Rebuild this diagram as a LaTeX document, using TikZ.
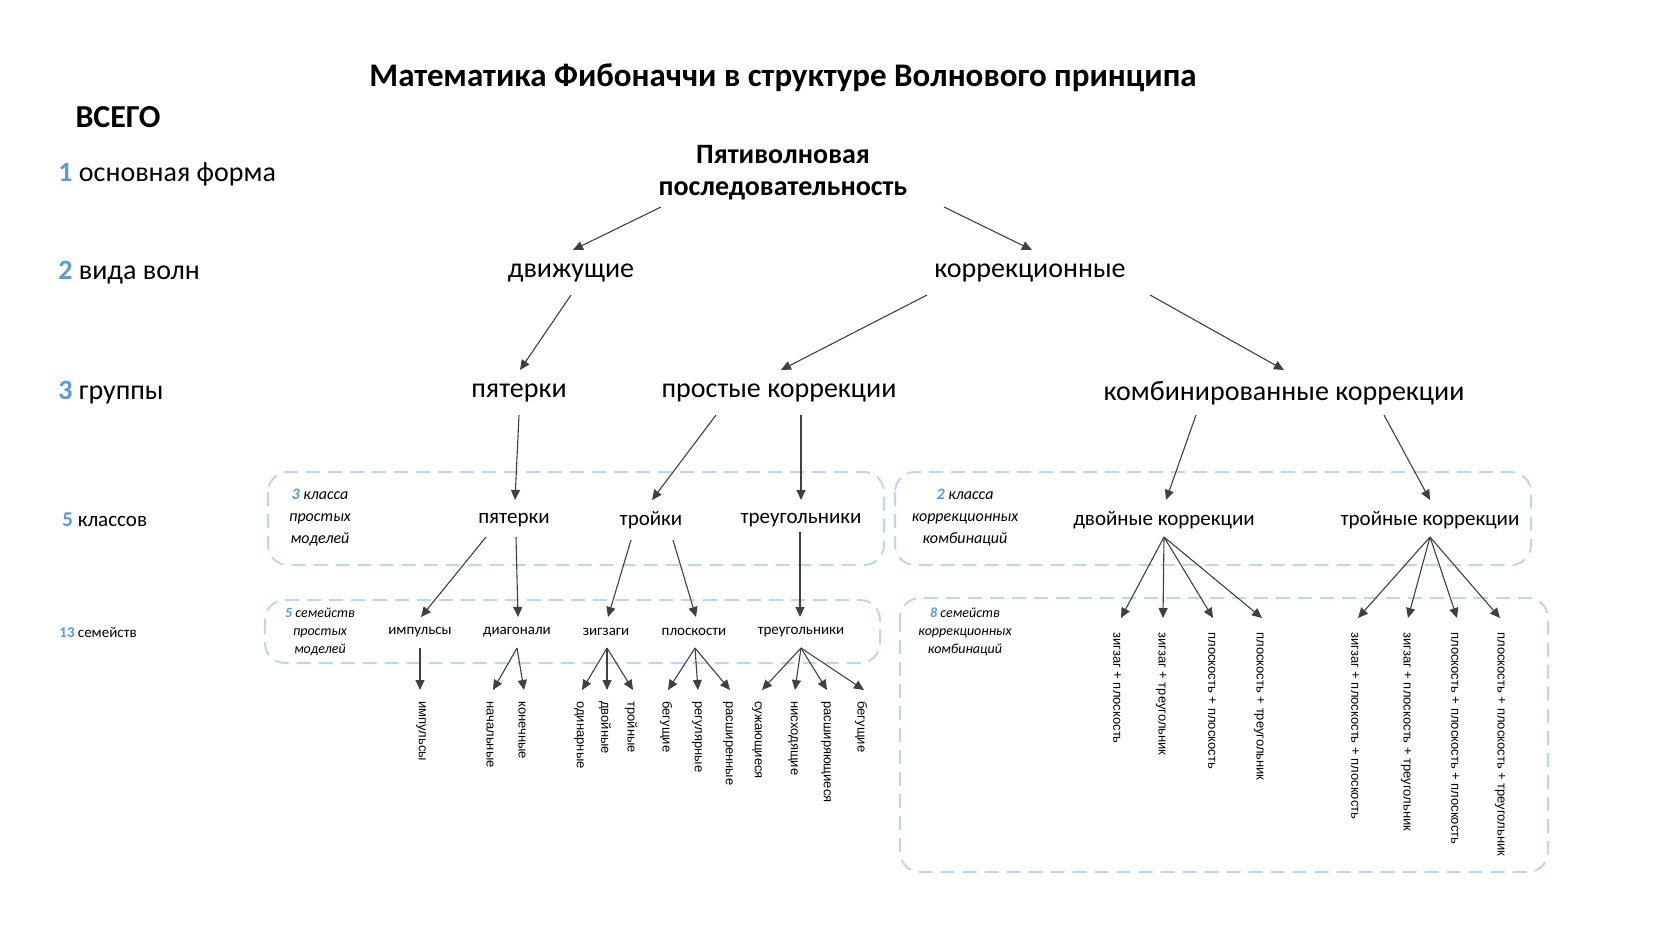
\documentclass[tikz,border=0pt]{standalone}
\usepackage{fontspec}
\setmainfont{Carlito}
\newfontfamily\arialf{Liberation Sans}
\usetikzlibrary{arrows.meta,calc}
\definecolor{nb}{RGB}{91,155,213}
\definecolor{bx}{RGB}{189,215,238}
\definecolor{ln}{RGB}{64,64,64}
\begin{document}
\begin{tikzpicture}[x=0.5pt,y=-0.5pt,
  arr/.style={draw=ln,line width=0.55pt,-{Triangle[length=5pt,width=4.5pt]}},
  box/.style={draw=bx,line width=1pt,dash pattern=on 7pt off 4pt,rounded corners=10pt},
  big/.style={font=\fontsize{14}{16}\selectfont,inner sep=1pt},
  mid/.style={font=\fontsize{10.5}{12}\selectfont,inner sep=1pt},
  sml/.style={font=\fontsize{7.5}{9}\selectfont,inner sep=1pt},
  bl/.style={font=\fontsize{8}{11}\selectfont\itshape,align=center,inner sep=0pt},
  leaf/.style={font=\arialf\fontsize{6.5}{8}\selectfont,rotate=-90,anchor=west,inner sep=0pt}]
\useasboundingbox (0,0) rectangle (1667,938);
\node[font=\bfseries\fontsize{16.5}{20}\selectfont] (title) at (783,78) {Математика Фибоначчи в структуре Волнового принципа};
\node[font=\bfseries\fontsize{16}{20}\selectfont] (all) at (118,117) {ВСЕГО};
\node[big,anchor=west] (l1) at (56,174) {\textcolor{nb}{\bfseries 1} основная форма};
\node[big,anchor=west] (l2) at (56,273) {\textcolor{nb}{\bfseries 2} вида волн};
\node[big,anchor=west] (l3) at (56,393) {\textcolor{nb}{\bfseries 3} группы};
\node[mid,anchor=west] (l5) at (60,520) {\textcolor{nb}{\bfseries 5} классов};
\node[sml,anchor=west] (l13) at (57,632) {\textcolor{nb}{\bfseries 13} семейств};
% boxes
\draw[box] (268,472) rectangle (884,565);
\draw[box] (895,472) rectangle (1531,565);
\draw[box] (265,600) rectangle (880,663);
\draw[box] (900,598) rectangle (1548,872);
\node[bl] (b1) at (320,518) {\textcolor{nb}{\bfseries 3} класса\\простых\\моделей};
\node[bl] (b2) at (965,518) {\textcolor{nb}{\bfseries 2} класса\\коррекционных\\комбинаций};
\node[bl,font=\fontsize{7}{9}\selectfont\itshape] (b3) at (320,632) {\textcolor{nb}{\bfseries 5} семейств\\простых\\моделей};
\node[bl,font=\fontsize{7}{9}\selectfont\itshape] (b4) at (965,632) {\textcolor{nb}{\bfseries 8} семейств\\коррекционных\\комбинаций};
% tree
\node[big,font=\bfseries\fontsize{14}{16}\selectfont,align=center] (root) at (783,173) {Пятиволновая\\последовательность};
\node[big] (dv) at (571,273) {движущие};
\node[big] (ko) at (1030,273) {коррекционные};
\node[big] (p5) at (519,393) {пятерки};
\node[big] (pk) at (779,393) {простые коррекции};
\node[big] (kk) at (1284,393) {комбинированные коррекции};
\node[mid] (c1) at (514,520) {пятерки};
\node[mid] (c2) at (651,520) {тройки};
\node[mid] (c3) at (801,520) {треугольники};
\node[mid] (c4) at (1164,520) {двойные коррекции};
\node[mid] (c5) at (1430,520) {тройные коррекции};
\node[sml] (f1) at (420,632) {импульсы};
\node[sml] (f2) at (517,632) {диагонали};
\node[sml] (f3) at (606,632) {зигзаги};
\node[sml] (f4) at (694,632) {плоскости};
\node[sml] (f5) at (801,632) {треугольники};
% leaves
\foreach \n/\x/\t in {a1/421/импульсы,a2/490/начальные,a3/522/конечные,a4/579/одинарные,a5/605/двойные,a6/631/тройные,a7/666/бегущие,a8/697/регулярные,a9/728/расширенные,a10/757/сужающиеся,a11/793/нисходящие,a12/826/расширяющиеся,a13/861/бегущие}
  \node[leaf] (\n) at (\x,701) {\t};
\foreach \n/\x/\t in {r1/1117/зигзаг + плоскость,r2/1161/зигзаг + треугольник,r3/1212/плоскость + плоскость,r4/1259/плоскость + треугольник,r5/1355/зигзаг + плоскость + плоскость,r6/1406/зигзаг + плоскость + треугольник,r7/1455/плоскость + плоскость + плоскость,r8/1500/плоскость + плоскость + треугольник}
  \node[leaf] (\n) at (\x,632) {\t};
% connectors
\coordinate (rs1) at (661,207); \coordinate (rs2) at (944,207);
\draw[arr] (rs1) -- (573,250) coordinate (dvt);
\draw[arr] (rs2) -- (1032,250) coordinate (kot);
\draw[arr] (571,295) -- (520,370);
\draw[arr] (927,295) -- (781,370);
\draw[arr] (1150,295) -- (1284,370);
\draw[arr] (519,415) -- (515,500);
\draw[arr] (716,415) -- (652,500);
\draw[arr] (801,415) -- (801,500);
\draw[arr] (1196,415) -- (1166,500);
\draw[arr] (1384,415) -- (1430,500);
\draw[arr] (486,537) -- (421,617);
\draw[arr] (516,537) -- (518,617);
\draw[arr] (631,540) -- (608,617);
\draw[arr] (673,540) -- (696,617);
\draw[arr] (800,532) -- (800,617);
\foreach \x in {1121,1163,1213,1262} \draw[arr] (1164,537) -- (\x,618);
\foreach \x in {1358,1408,1457,1500} \draw[arr] (1430,537) -- (\x,618);
\draw[arr] (420,648) -- (420,690);
\foreach \x in {493,524} \draw[arr] (517,648) -- (\x,690);
\foreach \x in {582,607,633} \draw[arr] (607,648) -- (\x,690);
\foreach \x in {668,698,730} \draw[arr] (695,648) -- (\x,690);
\foreach \x in {762,795,827,864} \draw[arr] (801,648) -- (\x,690);
\end{tikzpicture}
\end{document}
